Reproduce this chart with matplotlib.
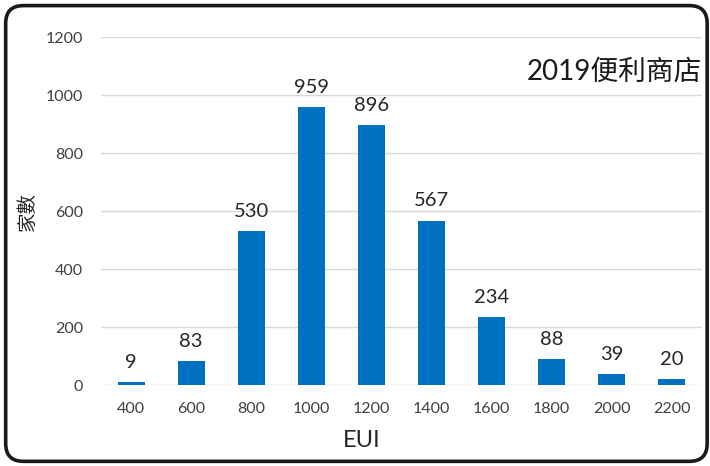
import matplotlib.pyplot as plt
from matplotlib.patches import FancyBboxPatch

plt.rcParams['font.family'] = ['Lato', 'Noto Sans CJK TC', 'DejaVu Sans']

# EUI bins and store counts
eui_bins = ['400', '600', '800', '1000', '1200', '1400', '1600', '1800', '2000', '2200']
counts = [9, 83, 530, 959, 896, 567, 234, 88, 39, 20]
y_ticks = [0, 200, 400, 600, 800, 1000, 1200]

fig = plt.figure(figsize=(7.1, 4.66), dpi=100)
ax = fig.add_axes([0.1423, 0.1738, 0.8464, 0.7468])

x = range(len(eui_bins))
bars = ax.bar(x, counts, width=0.45, color='#0070C0', zorder=3)

for b, v in zip(bars, counts):
    ax.annotate(str(v), (b.get_x() + b.get_width() / 2, v),
                xytext=(0, 8), textcoords='offset points',
                ha='center', va='bottom', fontsize=14.5, color='#262626')

ax.set_xlim(-0.5, len(eui_bins) - 0.5)
ax.set_ylim(0, 1200)
ax.set_xticks(list(x))
ax.set_xticklabels(eui_bins)
ax.set_yticks(y_ticks)
ax.tick_params(axis='both', length=0, labelsize=11.5, colors='#404040')
ax.tick_params(axis='y', pad=13)
ax.tick_params(axis='x', pad=12)
ax.grid(axis='y', color='#D9D9D9', linewidth=1.0, zorder=0)
for s in ax.spines.values():
    s.set_visible(False)

ax.set_xlabel('EUI', fontsize=17, color='#262626')
ax.xaxis.set_label_coords(0.434, -0.13)
ax.set_ylabel('家數', fontsize=14, color='#262626', labelpad=7)

ax.text(1.0, 0.9, '2019便利商店', transform=ax.transAxes, ha='right',
        va='center', fontsize=20, color='#1a1a1a')

# rounded frame around the whole chart
frame = FancyBboxPatch((0.008, 0.01), 0.988, 0.978,
                       boxstyle='round,pad=0,rounding_size=0.025',
                       transform=fig.transFigure, fill=False,
                       edgecolor='#1a1a1a', linewidth=2.6,
                       mutation_aspect=710 / 466)
fig.patches.append(frame)

fig.savefig('out.png', dpi=100)
